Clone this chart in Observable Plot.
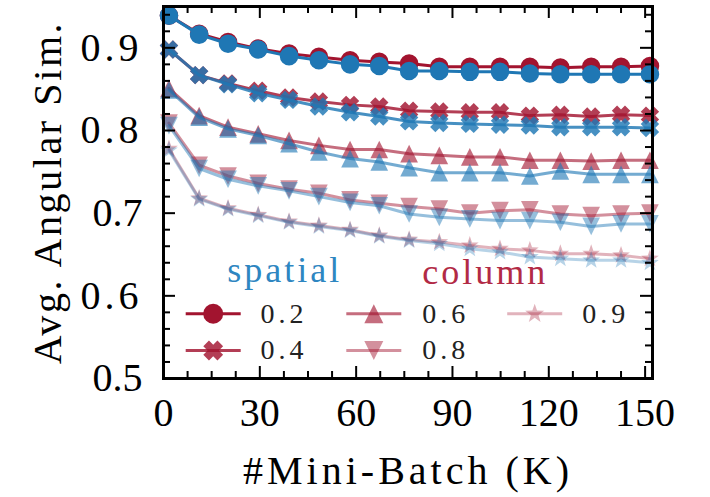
<!DOCTYPE html>
<html><head><meta charset="utf-8">
<script src="https://cdn.jsdelivr.net/npm/d3@7"></script>
<script src="https://cdn.jsdelivr.net/npm/@observablehq/plot@0.6"></script>
<style>body{margin:0;background:#fff}</style>
</head><body><div id="chart"></div>
<script>
// ---- data ----
const steps = [1.7, 11.1, 20.1, 29.5, 39.1, 48.4, 58.1, 67.2, 76.5, 85.9, 95.4, 104.8, 114.1, 123.6, 133.2, 142.5, 151.5];
const levels = ["0.2", "0.4", "0.6", "0.8", "0.9"];
const methods = ["spatial", "column"];

const spatial02 = [0.939, 0.916, 0.905, 0.898, 0.890, 0.885, 0.880, 0.878, 0.872, 0.872, 0.871, 0.871, 0.869, 0.868, 0.868, 0.868, 0.868];
const column02  = [0.939, 0.917, 0.907, 0.899, 0.893, 0.889, 0.885, 0.883, 0.881, 0.877, 0.877, 0.877, 0.877, 0.876, 0.877, 0.877, 0.878];
const spatial04 = [0.898, 0.867, 0.856, 0.845, 0.837, 0.829, 0.822, 0.817, 0.811, 0.809, 0.808, 0.807, 0.806, 0.804, 0.804, 0.804, 0.803];
const column04  = [0.898, 0.867, 0.857, 0.848, 0.840, 0.835, 0.831, 0.829, 0.824, 0.823, 0.822, 0.822, 0.818, 0.819, 0.817, 0.819, 0.818];
const spatial06 = [0.849, 0.816, 0.802, 0.794, 0.784, 0.774, 0.766, 0.762, 0.755, 0.749, 0.749, 0.749, 0.745, 0.751, 0.747, 0.747, 0.747];
const column06  = [0.851, 0.818, 0.804, 0.796, 0.788, 0.782, 0.777, 0.777, 0.772, 0.770, 0.768, 0.768, 0.764, 0.764, 0.763, 0.764, 0.764];
const spatial08 = [0.806, 0.754, 0.741, 0.733, 0.727, 0.720, 0.713, 0.709, 0.699, 0.695, 0.693, 0.691, 0.691, 0.689, 0.684, 0.687, 0.687];
const column08  = [0.809, 0.758, 0.745, 0.736, 0.729, 0.724, 0.716, 0.712, 0.708, 0.705, 0.700, 0.703, 0.704, 0.699, 0.697, 0.699, 0.700];
const spatial09 = [0.776, 0.717, 0.705, 0.697, 0.689, 0.684, 0.679, 0.672, 0.667, 0.663, 0.657, 0.653, 0.647, 0.645, 0.643, 0.643, 0.640];
const column09  = [0.778, 0.718, 0.706, 0.698, 0.690, 0.685, 0.680, 0.673, 0.668, 0.665, 0.661, 0.657, 0.655, 0.651, 0.651, 0.649, 0.645];

const xTicks = [0, 30, 60, 90, 120, 150];
const yTicks = [0.5, 0.6, 0.7, 0.8, 0.9];
const xTitle = "#Mini-Batch (K)";
const yTitle = "Avg. Angular Sim.";

// ---- styling ----
const series = {
  spatial: [spatial02, spatial04, spatial06, spatial08, spatial09],
  column:  [column02, column04, column06, column08, column09]
};
const colors = {spatial: "#1f77b4", column: "#a2142f"};
const alphas = [1, 0.82, 0.62, 0.47, 0.32];
const font = "'Liberation Serif', 'Times New Roman', serif";

function sym(fn) { return {draw(ctx, size) { fn(ctx, Math.sqrt(size / Math.PI)); }}; }
function poly(ctx, pts) { ctx.moveTo(pts[0][0], pts[0][1]); for (const p of pts.slice(1)) ctx.lineTo(p[0], p[1]); ctx.closePath(); }
const circleSym = sym((c, r) => { c.moveTo(r, 0); c.arc(0, 0, r, 0, 2 * Math.PI); });
const xSym = sym((c, r) => {
  const L = 1.0 * r, w = 0.4 * r, s = Math.SQRT1_2;
  const p = [[w,-L],[w,-w],[L,-w],[L,w],[w,w],[w,L],[-w,L],[-w,w],[-L,w],[-L,-w],[-w,-w],[-w,-L]];
  poly(c, p.map(([x, y]) => [(x - y) * s, (x + y) * s]));
});
const triUp = sym((c, r) => { const a = 0.95 * r; poly(c, [[0,-a],[a,a],[-a,a]]); });
const triDown = sym((c, r) => { const a = 0.95 * r; poly(c, [[0,a],[a,-a],[-a,-a]]); });
const starSym = sym((c, r) => {
  const ro = 1.0 * r, ri = ro * 0.4, pts = [];
  for (let k = 0; k < 10; k++) { const ang = -Math.PI / 2 + k * Math.PI / 5, rr = k % 2 ? ri : ro; pts.push([rr * Math.cos(ang), rr * Math.sin(ang)]); }
  poly(c, pts);
});
const symbols = [circleSym, xSym, triUp, triDown, starSym];
const hline = {draw(c) { c.moveTo(-27.5, 0); c.lineTo(27.5, 0); }};
const markerR = 9.3;

// ---- layout ----
const W = 710, H = 497, mL = 163, mR = 58, mT = 6, mB = 119;
const iW = W - mL - mR, iH = H - mT - mB;
const tickMajor = 12, tickMinor = 7;

const xMinor = d3.range(0, 152.3, 7.5).filter(v => !xTicks.includes(v));
const yMinor = d3.range(50, 96, 2).map(v => v / 100).filter(v => !yTicks.some(t => Math.abs(t - v) < 1e-9));

const marks = [];
// data
for (const m of ["column", "spatial"]) {
  levels.forEach((lv, i) => {
    const rows = steps.map((x, j) => ({x, y: series[m][i][j]}));
    marks.push(Plot.line(rows, {x: "x", y: "y", stroke: colors[m], strokeOpacity: alphas[i], strokeWidth: 3}));
    marks.push(Plot.dot(rows, {x: "x", y: "y", r: markerR, symbol: symbols[i], fill: colors[m], fillOpacity: alphas[i], stroke: "none"}));
  });
}
// ticks (inward, all sides)
const tk = (vals, len) => [
  Plot.tickX(vals, {x: d => d, stroke: "black", strokeWidth: 2, insetTop: iH - len}),
  Plot.tickX(vals, {x: d => d, stroke: "black", strokeWidth: 2, insetBottom: iH - len})
];
const tky = (vals, len) => [
  Plot.tickY(vals, {y: d => d, stroke: "black", strokeWidth: 2, insetRight: iW - len}),
  Plot.tickY(vals, {y: d => d, stroke: "black", strokeWidth: 2, insetLeft: iW - len})
];
marks.push(...tk(xTicks, tickMajor), ...tk(xMinor, tickMinor), ...tky(yTicks, tickMajor), ...tky(yMinor, tickMinor));
marks.push(Plot.frame({stroke: "black", strokeWidth: 3}));
// axes labels
marks.push(Plot.axisX({ticks: xTicks, tickSize: 0, tickPadding: 19, label: null, fontSize: 40, tickFormat: d => String(d)}));
marks.push(Plot.axisY({ticks: yTicks, tickSize: 0, tickPadding: 21, label: null, fontSize: 40, tickFormat: d3.format(".1f")}));
marks.push(Plot.text([xTitle], {text: d => d, frameAnchor: "bottom", textAnchor: "middle", lineAnchor: "bottom", dy: 105, fontSize: 40, fill: "black"}));
marks.push(Plot.text([yTitle], {text: d => d, frameAnchor: "left", textAnchor: "middle", lineAnchor: "middle", rotate: -90, dx: -115, fontSize: 40, fill: "black"}));
// legend
const colC = [49.7, 210.3, 371.2], colT = [97, 258.7, 418.7], rowY = [307.3, 344];
marks.push(Plot.text(["spatial"], {text: d => d, frameAnchor: "top-left", textAnchor: "start", lineAnchor: "bottom", dx: 63.7, dy: 275.7, fontSize: 36, fill: "#2e86c1"}));
marks.push(Plot.text(["column"], {text: d => d, frameAnchor: "top-left", textAnchor: "start", lineAnchor: "bottom", dx: 258.7, dy: 277, fontSize: 36, fill: "#b22a45"}));
levels.forEach((lv, i) => {
  const col = Math.floor(i / 2), row = i % 2;
  const base = {frameAnchor: "top-left", dx: colC[col], dy: rowY[row]};
  marks.push(Plot.dot([lv], {...base, symbol: hline, r: 5, fill: "none", stroke: colors.column, strokeOpacity: alphas[i], strokeWidth: 3}));
  marks.push(Plot.dot([lv], {...base, symbol: symbols[i], r: markerR + 0.7, fill: colors.column, fillOpacity: alphas[i], stroke: "none"}));
  marks.push(Plot.text([lv], {text: d => d, frameAnchor: "top-left", textAnchor: "start", lineAnchor: "middle", dx: colT[col], dy: rowY[row], fontSize: 28, fill: "#222"}));
});

const svg = Plot.plot({
  width: W, height: H, marginLeft: mL, marginRight: mR, marginTop: mT, marginBottom: mB,
  x: {domain: [0, 152.3], label: null},
  y: {domain: [0.5, 0.95], label: null},
  style: {fontFamily: font, background: "white", color: "black", overflow: "visible"},
  marks
});
document.getElementById("chart").appendChild(svg);

// letter spacing tweaks to approximate Computer Modern widths
const spacing = {"spatial": 3, "column": 3, [xTitle]: 4, [yTitle]: 2.6};
levels.forEach(l => spacing[l] = 4);
d3.select(svg).selectAll("text").each(function() {
  const t = this.textContent;
  if (spacing[t] !== undefined) this.setAttribute("letter-spacing", spacing[t]);
});
</script>
</body></html>
